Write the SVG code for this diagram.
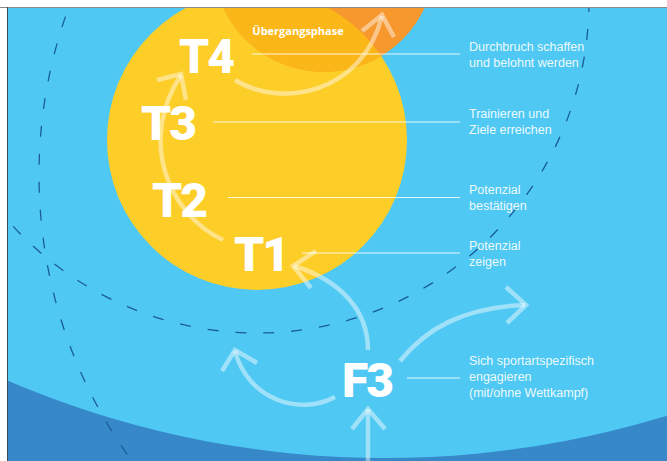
<svg xmlns="http://www.w3.org/2000/svg" width="667" height="461" viewBox="0 0 667 461">
<defs>
<clipPath id="frame"><rect x="8" y="8" width="659" height="453"/></clipPath>
<clipPath id="yc"><circle cx="257" cy="140" r="150"/></clipPath>
<style>
.big{font-family:Roboto,"Liberation Sans",sans-serif;font-weight:900;font-size:48px;fill:#fff;letter-spacing:-2px}
.lbl{font-family:"Liberation Sans",Arial,sans-serif;font-size:12.5px;fill:#fff;fill-opacity:0.92}
.lead{stroke:#fff;stroke-opacity:0.85;stroke-width:1}
.dash{fill:none;stroke:#1b5c98;stroke-width:1.3;stroke-dasharray:11 17}
.arr{fill:none;stroke:#fff;stroke-opacity:0.45;stroke-width:4.5;stroke-linecap:butt;stroke-linejoin:miter}
</style>
</defs>
<rect x="0" y="0" width="667" height="461" fill="#fff"/>
<g id="background" clip-path="url(#frame)">
<rect x="8" y="8" width="659" height="453" fill="#3788c9"/>
<ellipse cx="385" cy="-442" rx="930" ry="900" fill="#4fc9f3"/>
</g>
<line x1="0" y1="7.5" x2="667" y2="7.5" stroke="#8a8a8a" stroke-width="1"/>
<line x1="7.5" y1="7" x2="7.5" y2="461" stroke="#3a4a58" stroke-width="1"/>
<g id="phases" clip-path="url(#frame)">
<circle id="yellow" cx="257" cy="140" r="150" fill="#fdcd28"/>
<circle id="orange" cx="324" cy="-39" r="111" fill="#f7982f"/>
<circle cx="324" cy="-39" r="111" fill="#fbb718" clip-path="url(#yc)"/>
<circle class="dash" cx="257" cy="1" r="332"/>
<circle class="dash" cx="526" cy="175" r="487"/>
</g>
<g id="connectors" clip-path="url(#frame)">
<path class="arr" d="M223,240 C168,214 138,140 181,75"/>
<path class="arr" d="M157,80 L181,74 L186,100"/>
<path class="arr" d="M235,80 C280,108 362,95 382,16"/>
<path class="arr" d="M362,31 L382,15 L394,37"/>
<path class="arr" d="M368,350 C368,310 340,280 294,266"/>
<path class="arr" d="M316,251 L293,266 L311,288"/>
<path class="arr" d="M400,361 C425,330 462,307 525,305"/>
<path class="arr" d="M506,287 L526,305 L507,323"/>
<path class="arr" d="M335,397 C300,416 248,400 235,351"/>
<path class="arr" d="M222,371 L235,350 L257,363"/>
<path class="arr" d="M368,461 L368,409"/>
<path class="arr" d="M352,429 L368,409 L385,429"/>
<line class="lead" x1="252" y1="54" x2="460" y2="54"/>
<line class="lead" x1="213" y1="122" x2="460" y2="122"/>
<line class="lead" x1="228" y1="197.5" x2="460" y2="197.5"/>
<line class="lead" x1="302" y1="253" x2="460" y2="253"/>
<line class="lead" x1="407" y1="378" x2="460" y2="378"/>
</g>
<g id="uebergang"><text x="298" y="35" text-anchor="middle" font-family="'Open Sans','Liberation Sans',sans-serif" font-weight="700" font-size="11" fill="#fff">Übergangsphase</text></g>
<g id="T4"><text class="big" x="179" y="73">T4</text><text class="lbl" x="469" y="51">Durchbruch schaffen</text><text class="lbl" x="469" y="67">und belohnt werden</text></g>
<g id="T3"><text class="big" x="141" y="140">T3</text><text class="lbl" x="469" y="118">Trainieren und</text><text class="lbl" x="469" y="134">Ziele erreichen</text></g>
<g id="T2"><text class="big" x="152" y="217">T2</text><text class="lbl" x="469" y="194">Potenzial</text><text class="lbl" x="469" y="210">bestätigen</text></g>
<g id="T1"><text class="big" x="234" y="271">T1</text><text class="lbl" x="469" y="250">Potenzial</text><text class="lbl" x="469" y="266">zeigen</text></g>
<g id="F3"><text class="big" x="342" y="397">F3</text><text class="lbl" x="469" y="365">Sich sportartspezifisch</text><text class="lbl" x="469" y="381">engagieren</text><text class="lbl" x="469" y="397">(mit/ohne Wettkampf)</text></g>
</svg>
